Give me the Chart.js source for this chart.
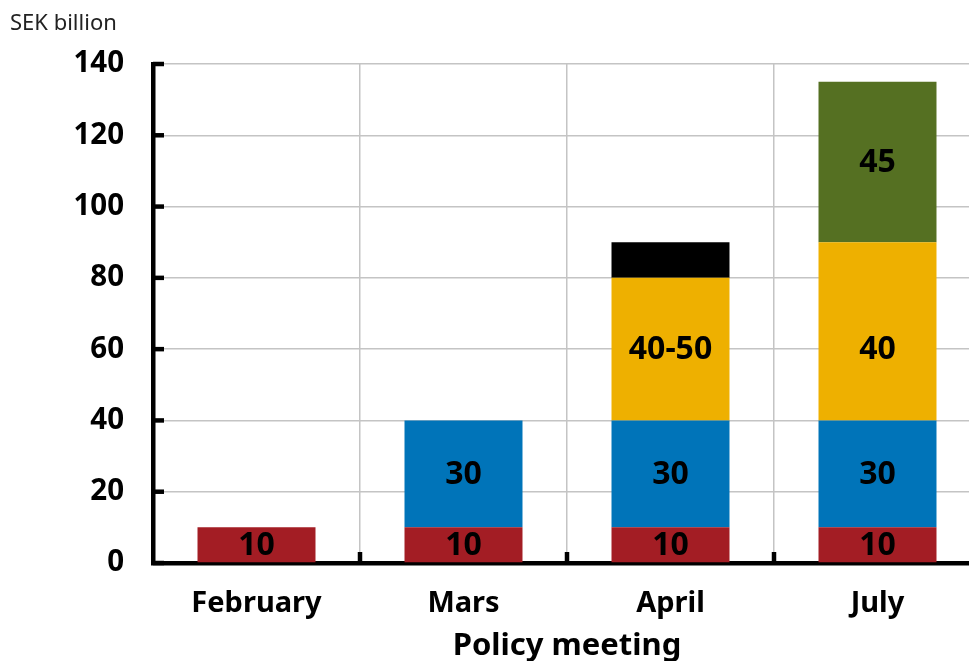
<!DOCTYPE html>
<html>
<head>
<meta charset="utf-8">
<script src="https://cdn.jsdelivr.net/npm/chart.js@4/dist/chart.umd.min.js"></script>
<style>
  html, body { margin: 0; padding: 0; background: #fff; overflow: hidden; }
  #wrap { position: relative; width: 982px; height: 661px; }
</style>
</head>
<body>
<div id="wrap"><canvas id="c"></canvas></div>
<script>
const categories = ['February', 'Mars', 'April', 'July'];
const yTicks = [0, 20, 40, 60, 80, 100, 120, 140];

const redValues    = [10, 10, 10, 10];
const blueValues   = [0, 30, 30, 30];
const yellowValues = [0, 0, 40, 50];
const blackValues  = [0, 0, 10, 0];
const greenValues  = [0, 0, 0, 45];

const redLabels    = ['10', '10', '10', '10'];
const blueLabels   = ['', '30', '30', '30'];
const yellowLabels = ['', '', '40-50', '40'];
const blackLabels  = ['', '', '', ''];
const greenLabels  = ['', '', '', '45'];
// nominal size of the yellow segment used for its label (label "40" sits mid 40..80)
const yellowNominal = [0, 0, 40, 40];

const FONT = '"Noto Sans", "Open Sans", sans-serif';

const innerTicks = {
  id: 'innerTicks',
  afterDraw(chart) {
    const ctx = chart.ctx;
    const x = chart.scales.x, y = chart.scales.y;
    const a = chart.chartArea;
    ctx.save();
    ctx.strokeStyle = '#000';
    ctx.lineWidth = 4.5;
    yTicks.forEach(v => {
      const py = y.getPixelForValue(v);
      ctx.beginPath();
      ctx.moveTo(a.left, py);
      ctx.lineTo(a.left + 11, py);
      ctx.stroke();
    });
    for (let i = 0; i < categories.length - 1; i++) {
      const px = (x.getPixelForValue(i) + x.getPixelForValue(i + 1)) / 2;
      ctx.beginPath();
      ctx.moveTo(px, a.bottom);
      ctx.lineTo(px, a.bottom - 11);
      ctx.stroke();
    }
    ctx.fillStyle = '#222';
    ctx.font = '22px ' + FONT;
    ctx.textAlign = 'left';
    ctx.textBaseline = 'middle';
    ctx.fillText('SEK billion', 10, 24);
    ctx.restore();
  }
};

const barLabels = {
  id: 'barLabels',
  afterDatasetsDraw(chart) {
    const ctx = chart.ctx;
    const y = chart.scales.y;
    ctx.save();
    ctx.fillStyle = '#000';
    ctx.font = 'bold 32px ' + FONT;
    ctx.textAlign = 'center';
    ctx.textBaseline = 'middle';
    chart.data.datasets.forEach((ds, di) => {
      const meta = chart.getDatasetMeta(di);
      meta.data.forEach((el, i) => {
        const t = ds.labelTexts[i];
        if (!t) return;
        let cy = (el.y + el.base) / 2;
        if (ds.labelNominal) {
          const baseVal = y.getValueForPixel(el.base);
          cy = y.getPixelForValue(baseVal + ds.labelNominal[i] / 2);
        }
        ctx.fillText(t, el.x, cy + 1);
      });
    });
    ctx.restore();
  }
};

function ds(label, data, color, texts, nominal) {
  return {
    label, data, backgroundColor: color, borderWidth: 0,
    labelTexts: texts, labelNominal: nominal || null,
    barPercentage: 0.57, categoryPercentage: 1.0
  };
}

new Chart(document.getElementById('c'), {
  type: 'bar',
  data: {
    labels: categories,
    datasets: [
      ds('Red', redValues, '#A31D24', redLabels),
      ds('Blue', blueValues, '#0074B9', blueLabels),
      ds('Yellow', yellowValues, '#EEB000', yellowLabels, yellowNominal),
      ds('Black', blackValues, '#000000', blackLabels),
      ds('Green', greenValues, '#557022', greenLabels)
    ]
  },
  options: {
    responsive: true,
    maintainAspectRatio: false,
    animation: false,
    layout: { padding: { top: 64, left: 0, right: 1, bottom: 0 } },
    plugins: { legend: { display: false }, tooltip: { enabled: false } },
    scales: {
      x: {
        stacked: true,
        grid: { color: '#c4c4c4', lineWidth: 1.5, drawTicks: false, offset: true },
        border: { display: true, color: '#000', width: 4.5 },
        ticks: { color: '#000', font: { family: FONT, size: 29, weight: 'bold' }, padding: 23, maxRotation: 0 },
        title: { display: true, text: 'Policy meeting', color: '#000',
                 font: { family: FONT, size: 31, weight: 'bold' }, padding: { top: 0, bottom: -4 } },
        afterFit(s) { s.height = 98; }
      },
      y: {
        stacked: true,
        min: 0, max: 140,
        afterBuildTicks(s) { s.ticks = yTicks.map(v => ({ value: v })); },
        grid: { color: '#c4c4c4', lineWidth: 1.5, drawTicks: false },
        border: { display: true, color: '#000', width: 4.5 },
        ticks: { color: '#000', font: { family: FONT, size: 29.5, weight: 'bold' }, padding: 29 },
        afterFit(s) { s.width = 153; }
      }
    }
  },
  plugins: [innerTicks, barLabels]
});
</script>
</body>
</html>
